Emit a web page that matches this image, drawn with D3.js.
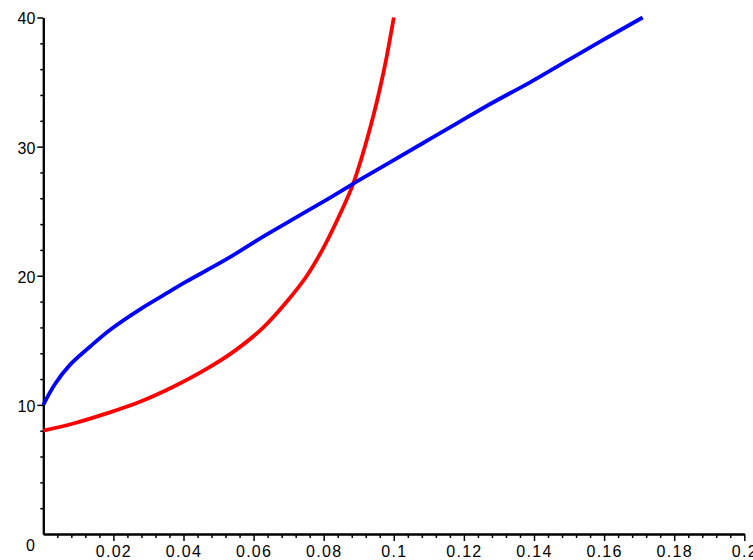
<!DOCTYPE html>
<html>
<head>
    <meta charset="utf-8">
    <title>Two curves</title>
    <script src="https://d3js.org/d3.v7.min.js"></script>
    <style>
        body{
            margin: 0;
            background: #fff;
        }
        .axis text{
            font-family: "Liberation Sans", Arial, sans-serif;
            font-size: 16px;
            fill: #000;
        }
    </style>
</head>
<body>
    <div class="plot"></div>

    <script>
        // values
        var blueX = [0, 0.0033, 0.0076, 0.0133, 0.019, 0.0276, 0.0362, 0.0405, 0.0524, 0.0619,
                     0.0714, 0.0809, 0.0895, 0.099, 0.1085, 0.118, 0.1275, 0.139, 0.1485, 0.158, 0.171];
        var blueY = [10, 11.6, 13.1, 14.5, 15.8, 17.4, 18.8, 19.5, 21.3, 22.9,
                     24.4, 25.9, 27.3, 28.8, 30.3, 31.8, 33.3, 35.0, 36.5, 38.0, 40];

        var redX = [0, 0.0086, 0.0181, 0.0276, 0.0371, 0.0467, 0.0552, 0.0628, 0.0695, 0.0752,
                    0.08, 0.0847, 0.0885, 0.0933, 0.0971, 0.1];
        var redY = [8, 8.56, 9.34, 10.24, 11.4, 12.8, 14.3, 16.0, 18.0, 20.0,
                    22.2, 24.8, 27.2, 31.5, 35.8, 40];

        var xTicks = [0.02, 0.04, 0.06, 0.08, 0.1, 0.12, 0.14, 0.16, 0.18, 0.2];
        var xTickLabels = ["0.02", "0.04", "0.06", "0.08", "0.1", "0.12", "0.14", "0.16", "0.18", "0.2"];
        var yTicks = [10, 20, 30, 40];
        var yTickLabels = ["10", "20", "30", "40"];

        var width = 753;
        var height = 560;

        var svg = d3.select("div.plot")
            .append("svg")
            .attr("width", width)
            .attr("height", height);

        var x = d3.scaleLinear().domain([0, 0.2]).range([43.3, 744.3]);
        var y = d3.scaleLinear().domain([0, 40]).range([534, 17.5]);

        // minor ticks every 0.004 on x, every 2 on y
        var xMinor = d3.range(1, 50).map(function(i){ return i * 0.004; })
            .filter(function(v, i){ return (i + 1) % 5 != 0; });
        var yMinor = d3.range(1, 20).map(function(i){ return i * 2; })
            .filter(function(v){ return v % 10 != 0; });

        var xAxis = svg.append("g")
            .attr("class", "axis")
            .attr("transform", "translate(0," + y(0) + ")");
        xAxis.call(d3.axisBottom(x).tickValues(xMinor).tickSize(4).tickSizeOuter(0).tickFormat(""));
        xAxis.append("g").call(d3.axisBottom(x).tickValues(xTicks).tickSize(7).tickSizeOuter(0)
            .tickFormat(function(d, i){ return xTickLabels[i]; }));
        xAxis.selectAll("path.domain").attr("stroke-width", 2);
        xAxis.selectAll("line").attr("stroke-width", 1.5);
        xAxis.selectAll("text").attr("y", 23).attr("dy", 0).style("letter-spacing", "1.3px");

        var yAxis = svg.append("g")
            .attr("class", "axis")
            .attr("transform", "translate(" + x(0) + ",0)");
        yAxis.call(d3.axisLeft(y).tickValues(yMinor).tickSize(3).tickSizeOuter(0).tickFormat(""));
        yAxis.append("g").call(d3.axisLeft(y).tickValues(yTicks).tickSize(6).tickSizeOuter(0)
            .tickFormat(function(d, i){ return yTickLabels[i]; }));
        yAxis.selectAll("path.domain").attr("stroke-width", 2);
        yAxis.selectAll("line").attr("stroke-width", 1.5);
        yAxis.selectAll("text").attr("x", -8).attr("dy", "0.4em");

        svg.append("text")
            .attr("x", 26)
            .attr("y", 551)
            .style("font-family", "Liberation Sans, Arial, sans-serif")
            .style("font-size", "16px")
            .text("0");

        var line = d3.line()
            .x(function(d){ return x(d[0]); })
            .y(function(d){ return y(d[1]); })
            .curve(d3.curveCatmullRom.alpha(0.5));

        var blue = blueX.map(function(v, i){ return [v, blueY[i]]; });
        var red = redX.map(function(v, i){ return [v, redY[i]]; });

        svg.append("path")
            .datum(red)
            .attr("d", line)
            .attr("fill", "none")
            .attr("stroke", "#ff0000")
            .attr("stroke-width", 3.8);

        svg.append("path")
            .datum(blue)
            .attr("d", line)
            .attr("fill", "none")
            .attr("stroke", "#0000ff")
            .attr("stroke-width", 3.8);
    </script>
</body>
</html>
